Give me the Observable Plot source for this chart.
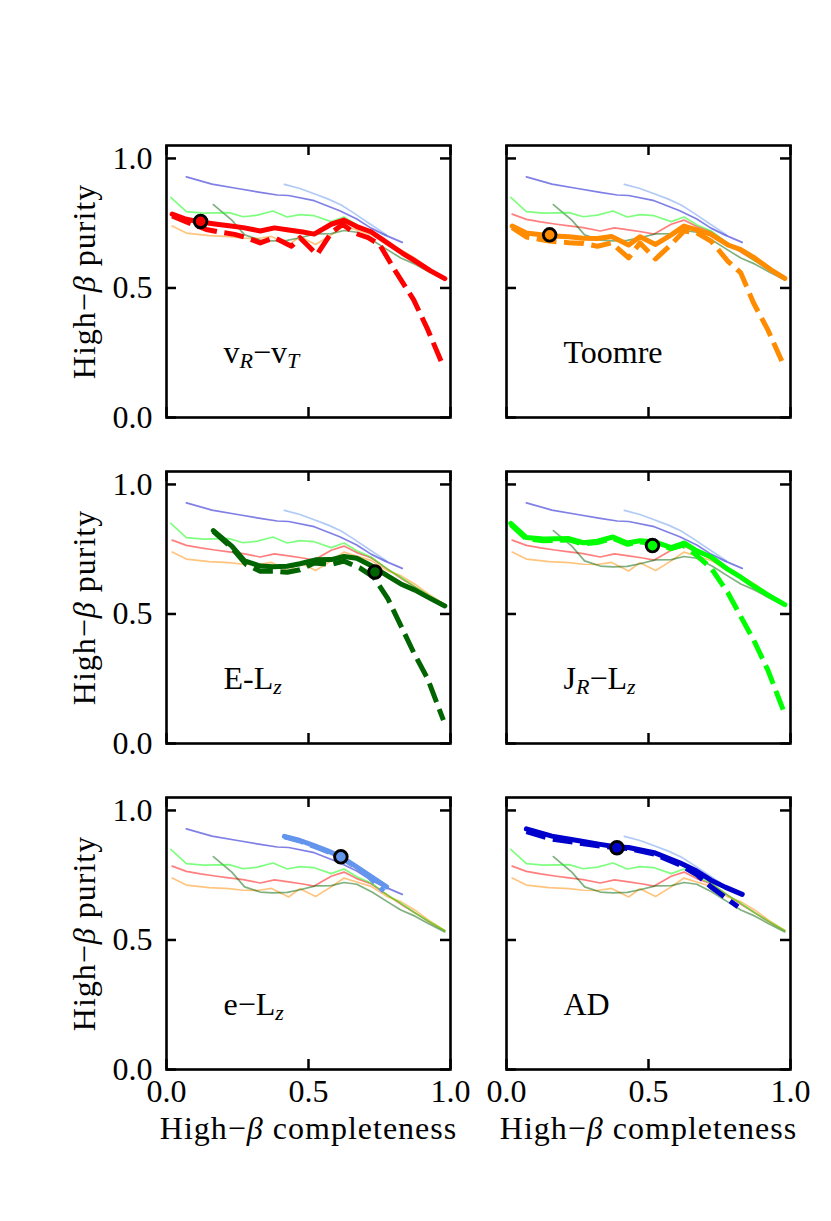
<!DOCTYPE html>
<html>
<head>
<meta charset="utf-8">
<script src="https://cdn.jsdelivr.net/npm/d3@7"></script>
<script src="https://cdn.jsdelivr.net/npm/@observablehq/plot@0.6"></script>
<style>
  body { margin: 0; background: #fff; }
  #fig { position: relative; width: 831px; height: 1221px; background: #fff; overflow: hidden; }
  #fig svg { position: absolute; overflow: visible; }
</style>
</head>
<body>
<div id="fig"></div>
<script>
// ---------- data ----------
const methods = ["vR-vT", "Toomre", "E-Lz", "JR-Lz", "e-Lz", "AD"];
const panelLabels = ["v_R−v_T", "Toomre", "E-L_z", "J_R−L_z", "e−L_z", "AD"];
const colors = ["#ff0000", "#ff8c00", "#006400", "#00ff00", "#6495ed", "#0000cd"];
const xTicks = [0, 0.5, 1.0];
const yTicks = [0, 0.5, 1.0];
const xLabel = "High−β completeness";
const yLabel = "High−β purity";

// v_R - v_T
const vrvtSolidX = [0.02, 0.07, 0.12, 0.17, 0.22, 0.27, 0.33, 0.38, 0.43, 0.48, 0.52, 0.58, 0.625, 0.67, 0.72, 0.78, 0.83, 0.87, 0.93, 0.98];
const vrvtSolidY = [0.785, 0.765, 0.755, 0.747, 0.740, 0.733, 0.720, 0.732, 0.724, 0.716, 0.708, 0.746, 0.762, 0.737, 0.717, 0.672, 0.635, 0.608, 0.566, 0.536];
const vrvtDashX = [0.02, 0.07, 0.14, 0.19, 0.24, 0.28, 0.33, 0.38, 0.44, 0.47, 0.53, 0.58, 0.62, 0.66, 0.71, 0.75, 0.81, 0.87, 0.92, 0.975];
const vrvtDashY = [0.778, 0.755, 0.726, 0.715, 0.707, 0.695, 0.674, 0.694, 0.661, 0.694, 0.629, 0.713, 0.746, 0.713, 0.694, 0.668, 0.558, 0.455, 0.339, 0.196];

// Toomre
const toomreSolidX = [0.02, 0.07, 0.15, 0.22, 0.27, 0.32, 0.37, 0.43, 0.47, 0.525, 0.58, 0.625, 0.67, 0.72, 0.78, 0.825, 0.875, 0.93, 0.98];
const toomreSolidY = [0.739, 0.712, 0.702, 0.698, 0.692, 0.691, 0.699, 0.666, 0.698, 0.668, 0.705, 0.739, 0.724, 0.707, 0.666, 0.648, 0.615, 0.571, 0.537];
const toomreDashX = [0.02, 0.07, 0.15, 0.22, 0.27, 0.32, 0.37, 0.43, 0.47, 0.525, 0.58, 0.625, 0.67, 0.72, 0.78, 0.825, 0.87, 0.92, 0.97];
const toomreDashY = [0.733, 0.697, 0.681, 0.675, 0.672, 0.661, 0.674, 0.616, 0.674, 0.612, 0.668, 0.720, 0.713, 0.681, 0.603, 0.558, 0.442, 0.339, 0.216];

// E - Lz
const elzSolidX = [0.165, 0.23, 0.275, 0.33, 0.375, 0.425, 0.47, 0.525, 0.58, 0.625, 0.67, 0.725, 0.78, 0.825, 0.875, 0.92, 0.98];
const elzSolidY = [0.822, 0.762, 0.705, 0.685, 0.682, 0.684, 0.694, 0.709, 0.710, 0.722, 0.715, 0.684, 0.646, 0.616, 0.592, 0.565, 0.531];
const elzDashX = [0.165, 0.23, 0.28, 0.33, 0.375, 0.425, 0.47, 0.52, 0.58, 0.625, 0.68, 0.73, 0.78, 0.825, 0.87, 0.92, 0.975];
const elzDashY = [0.819, 0.755, 0.691, 0.665, 0.665, 0.661, 0.671, 0.697, 0.691, 0.704, 0.678, 0.642, 0.558, 0.455, 0.352, 0.249, 0.090];

// J_R - Lz
const jrlzSolidX = [0.015, 0.07, 0.13, 0.22, 0.27, 0.32, 0.375, 0.425, 0.47, 0.52, 0.58, 0.625, 0.67, 0.72, 0.78, 0.825, 0.87, 0.92, 0.98];
const jrlzSolidY = [0.850, 0.795, 0.789, 0.791, 0.775, 0.781, 0.797, 0.774, 0.783, 0.779, 0.756, 0.774, 0.744, 0.720, 0.672, 0.642, 0.608, 0.574, 0.536];
const jrlzDashX = [0.015, 0.07, 0.13, 0.22, 0.27, 0.32, 0.375, 0.425, 0.47, 0.52, 0.58, 0.62, 0.66, 0.72, 0.78, 0.825, 0.87, 0.92, 0.975];
const jrlzDashY = [0.845, 0.790, 0.783, 0.786, 0.770, 0.776, 0.792, 0.769, 0.778, 0.773, 0.752, 0.766, 0.735, 0.678, 0.581, 0.490, 0.400, 0.284, 0.128];

// e - Lz
const eccSolidX = [0.415, 0.47, 0.52, 0.57, 0.615, 0.66, 0.71, 0.775];
const eccSolidY = [0.900, 0.884, 0.864, 0.843, 0.820, 0.789, 0.752, 0.705];
const eccDashX = [0.415, 0.47, 0.52, 0.57, 0.615, 0.66, 0.71, 0.765];
const eccDashY = [0.898, 0.882, 0.861, 0.840, 0.817, 0.786, 0.747, 0.688];

// AD
const adSolidX = [0.07, 0.16, 0.25, 0.33, 0.39, 0.43, 0.52, 0.61, 0.67, 0.72, 0.77, 0.83];
const adSolidY = [0.929, 0.901, 0.884, 0.869, 0.859, 0.857, 0.837, 0.798, 0.766, 0.731, 0.704, 0.676];
const adDashX = [0.07, 0.16, 0.25, 0.33, 0.39, 0.43, 0.52, 0.61, 0.67, 0.72, 0.77, 0.815];
const adDashY = [0.918, 0.889, 0.875, 0.862, 0.856, 0.853, 0.832, 0.790, 0.752, 0.705, 0.665, 0.628];

// chosen operating points
const markerX = [0.12, 0.152, 0.734, 0.514, 0.614, 0.389];
const markerY = [0.757, 0.705, 0.662, 0.764, 0.821, 0.856];

// ---------- tables ----------
const solidXs = [vrvtSolidX, toomreSolidX, elzSolidX, jrlzSolidX, eccSolidX, adSolidX];
const solidYs = [vrvtSolidY, toomreSolidY, elzSolidY, jrlzSolidY, eccSolidY, adSolidY];
const dashXs = [vrvtDashX, toomreDashX, elzDashX, jrlzDashX, eccDashX, adDashX];
const dashYs = [vrvtDashY, toomreDashY, elzDashY, jrlzDashY, eccDashY, adDashY];

const toRows = (xs, ys, m) => xs.map((x, j) => ({method: m, x, y: ys[j]}));
const solidRows = methods.map((m, k) => toRows(solidXs[k], solidYs[k], m));
const dashRows = methods.map((m, k) => toRows(dashXs[k], dashYs[k], m));
const allSolid = solidRows.flat();

// ---------- layout ----------
const W = 284, H = 272;
const colLeft = [166, 506];
const rowTop = [145, 471, 797];
const FONT = "Liberation Serif, Times New Roman, serif";
const FS = 32;

function richText(t, str) {
  // subscripts written as _X, β italic
  while (t.firstChild) t.removeChild(t.firstChild);
  const ns = "http://www.w3.org/2000/svg";
  const parts = str.split(/(_.|β)/).filter(s => s.length);
  let shifted = false;
  for (const p of parts) {
    const ts = document.createElementNS(ns, "tspan");
    if (p.startsWith("_")) {
      ts.textContent = p.slice(1);
      ts.setAttribute("font-style", "italic");
      ts.setAttribute("font-size", "22");
      ts.setAttribute("dy", "5");
      shifted = true;
    } else {
      ts.textContent = p;
      if (p === "β") ts.setAttribute("font-style", "italic");
      if (shifted) { ts.setAttribute("dy", "-5"); shifted = false; }
    }
    t.appendChild(ts);
  }
}

const fig = document.getElementById("fig");

methods.forEach((m, i) => {
  const col = i % 2, row = Math.floor(i / 2);
  const mL = col === 0 ? 120 : 12;
  const mR = 12, mT = 12;
  const mB = row === 2 ? 110 : 12;
  const marks = [
    Plot.line(allSolid, {x: "x", y: "y", z: "method", stroke: "method", strokeWidth: 1.7, strokeOpacity: 0.5}),
    Plot.line(dashRows[i], {x: "x", y: "y", stroke: colors[i], strokeWidth: 5, strokeDasharray: "20,7.5", strokeLinecap: "butt"}),
    Plot.line(solidRows[i], {x: "x", y: "y", stroke: colors[i], strokeWidth: 5}),
    Plot.dot([{x: markerX[i], y: markerY[i]}], {x: "x", y: "y", r: 6.3, fill: colors[i], stroke: "black", strokeWidth: 2.9}),
    Plot.text([panelLabels[i]], {text: d => d, frameAnchor: "bottom-left", lineAnchor: "bottom", textAnchor: "start", dx: 57, dy: -55, fontSize: FS, fill: "black"}),
    // inward ticks on all four sides
    Plot.ruleX(xTicks, {x: d => d, insetTop: H - 10, stroke: "black", strokeWidth: 2.5}),
    Plot.ruleX(xTicks, {x: d => d, insetBottom: H - 10, stroke: "black", strokeWidth: 2.5}),
    Plot.ruleY(yTicks, {y: d => d, insetRight: W - 10, stroke: "black", strokeWidth: 2.5}),
    Plot.ruleY(yTicks, {y: d => d, insetLeft: W - 10, stroke: "black", strokeWidth: 2.5}),
    Plot.frame({stroke: "black", strokeWidth: 2.6})
  ];
  if (col === 0) {
    marks.push(Plot.axisY(yTicks, {anchor: "left", tickSize: 0, tickPadding: 14, tickFormat: d3.format(".1f"), fontSize: FS, label: null}));
    marks.push(Plot.text([yLabel], {text: d => d, frameAnchor: "left", textAnchor: "middle", lineAnchor: "middle", rotate: -90, dx: -81.5, fontSize: FS, fill: "black"}));
  }
  if (row === 2) {
    marks.push(Plot.axisX(xTicks, {anchor: "bottom", tickSize: 0, tickPadding: 10, tickFormat: d3.format(".1f"), fontSize: FS, label: null}));
    marks.push(Plot.text([xLabel], {text: d => d, frameAnchor: "bottom", textAnchor: "middle", lineAnchor: "bottom", dy: 69, fontSize: FS, fill: "black"}));
  }
  const svg = Plot.plot({
    width: W + mL + mR,
    height: H + mT + mB,
    marginLeft: mL, marginRight: mR, marginTop: mT, marginBottom: mB,
    x: {domain: [0, 1], axis: null},
    y: {domain: [0, 1.05], axis: null},
    color: {domain: methods, range: colors},
    style: {background: "transparent", fontFamily: FONT, fontSize: FS + "px", color: "black", overflow: "visible"},
    marks
  });
  svg.style.left = (colLeft[col] - mL) + "px";
  svg.style.top = (rowTop[row] - mT) + "px";
  svg.querySelectorAll("text").forEach(t => {
    const s = t.textContent;
    if (s === xLabel || s === yLabel) t.setAttribute("letter-spacing", "1");
    if (panelLabels.includes(s) || s === xLabel || s === yLabel) {
      if (/_|β/.test(s)) richText(t, s);
    }
  });
  fig.appendChild(svg);
});
</script>
</body>
</html>
